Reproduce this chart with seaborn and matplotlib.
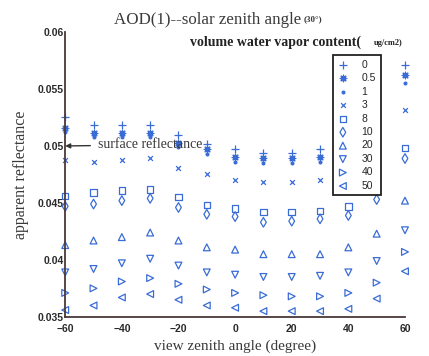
import numpy as np
import pandas as pd
import seaborn as sns
from matplotlib import pyplot as plt

# view zenith angles (degree)
view_angle = [-60, -50, -40, -30, -20, -10, 0, 10, 20, 30, 40, 50, 60]

# water vapor content classes and their apparent reflectance
vapor_labels = ['0', '0.5', '1', '3', '8', '10', '20', '30', '40', '50']
refl_0 = [0.0525, 0.0518, 0.0518, 0.0518, 0.0510, 0.0502, 0.0497, 0.0494, 0.0494, 0.0497, 0.0500, 0.0535, 0.0571]
refl_05 = [0.0516, 0.0511, 0.0511, 0.0511, 0.0503, 0.0497, 0.0490, 0.0489, 0.0489, 0.0490, 0.0494, 0.0528, 0.0562]
refl_1 = [0.0512, 0.0508, 0.0508, 0.0508, 0.0499, 0.0493, 0.0486, 0.0485, 0.0485, 0.0486, 0.0490, 0.0523, 0.0555]
refl_3 = [0.0488, 0.0486, 0.0488, 0.0489, 0.0481, 0.0475, 0.0470, 0.0468, 0.0468, 0.0470, 0.0474, 0.0505, 0.0532]
refl_8 = [0.0456, 0.0459, 0.0461, 0.0462, 0.0455, 0.0448, 0.0445, 0.0442, 0.0442, 0.0443, 0.0447, 0.0463, 0.0498]
refl_10 = [0.0447, 0.0449, 0.0452, 0.0454, 0.0446, 0.0440, 0.0438, 0.0433, 0.0434, 0.0436, 0.0439, 0.0453, 0.0489]
refl_20 = [0.0413, 0.0417, 0.0420, 0.0424, 0.0417, 0.0411, 0.0409, 0.0405, 0.0405, 0.0405, 0.0411, 0.0423, 0.0452]
refl_30 = [0.0389, 0.0392, 0.0397, 0.0401, 0.0395, 0.0389, 0.0387, 0.0385, 0.0385, 0.0386, 0.0389, 0.0399, 0.0426]
refl_40 = [0.0371, 0.0375, 0.0381, 0.0384, 0.0379, 0.0374, 0.0371, 0.0369, 0.0368, 0.0368, 0.0371, 0.0380, 0.0407]
refl_50 = [0.0356, 0.0360, 0.0367, 0.0370, 0.0365, 0.0360, 0.0358, 0.0355, 0.0355, 0.0355, 0.0357, 0.0366, 0.0390]

series = [refl_0, refl_05, refl_1, refl_3, refl_8, refl_10, refl_20, refl_30, refl_40, refl_50]
markers = ['+', (8, 2, 0), 'o', 'x', 's', 'd', '^', 'v', '>', '<']
hollow = [False, False, False, False, True, True, True, True, True, True]
sizes = [36, 22, 4, 12, 22, 24, 24, 24, 24, 24]

blue = '#3a6cd6'
axis_col = '#4a3838'
text_col = '#3a3a3a'
narrow = ['Liberation Sans Narrow', 'Liberation Sans', 'DejaVu Sans']

sns.set_style('white')
plt.rcParams['font.family'] = ['Liberation Serif', 'DejaVu Serif']

fig = plt.figure(figsize=(4.29, 3.56), dpi=100)
ax = fig.add_axes([0.152, 0.110, 0.792, 0.800])

for vals, lab, mk, hol, sz in zip(series, vapor_labels, markers, hollow, sizes):
    df = pd.DataFrame({'angle': view_angle, 'refl': vals})
    if hol:
        sns.scatterplot(data=df, x='angle', y='refl', ax=ax, marker=mk, s=sz,
                        facecolor='none', edgecolor=blue, linewidth=0.9,
                        label=lab, clip_on=False, zorder=1)
    else:
        sns.scatterplot(data=df, x='angle', y='refl', ax=ax, marker=mk, s=sz,
                        color=blue, edgecolor=blue, linewidth=0.9, label=lab,
                        clip_on=False, zorder=1)

ax.set_xlim(-60, 60)
ax.set_ylim(0.035, 0.06)
ax.set_xticks([-60, -40, -20, 0, 20, 40, 60])
ax.set_yticks([0.035, 0.04, 0.045, 0.05, 0.055, 0.06])
ax.set_yticklabels(['0.035', '0.04', '0.045', '0.05', '0.055', '0.06'])

for side in ['top', 'right']:
    ax.spines[side].set_visible(False)
for side in ['left', 'bottom']:
    ax.spines[side].set_color(axis_col)
    ax.spines[side].set_linewidth(1.3)
    ax.spines[side].set_zorder(2)

ax.tick_params(direction='in', length=3, width=1, colors=axis_col,
               labelcolor='#2a2a2a', labelsize=7.5)
ax.tick_params(axis='x', pad=5)
ax.tick_params(axis='y', pad=1)
for t in ax.get_xticklabels() + ax.get_yticklabels():
    t.set_family(narrow)
    t.set_weight('bold')

ax.set_xlabel('view zenith angle (degree)', fontsize=11, color=text_col)
ax.xaxis.set_label_coords(0.5, -0.078)
ax.set_ylabel('apparent reflectance', fontsize=11.5, color=text_col)
ax.yaxis.set_label_coords(-0.106, 0.5)

fig.text(0.484, 0.944, 'AOD(1)--solar zenith angle', fontsize=12.2,
         color=text_col, ha='center', va='center')
fig.text(0.707, 0.946, '(30°)', fontsize=6.5, weight='bold',
         color=text_col, ha='left', va='center')
fig.text(0.443, 0.882, 'volume water vapor content(', fontsize=10,
         weight='bold', color='#222222', ha='left', va='center')
fig.text(0.872, 0.880, 'ug/cm2)', fontsize=6, weight='bold',
         color='#222222', ha='left', va='center')

ax.annotate('surface reflectance', xy=(-60, 0.0500), xytext=(-48.5, 0.0501),
            fontsize=10, color=text_col, va='center', ha='left',
            arrowprops=dict(arrowstyle='-|>', color='#333333', lw=1,
                            shrinkA=3, shrinkB=0, mutation_scale=7))

leg = ax.legend(loc='upper left', bbox_to_anchor=(0.788, 0.919),
                borderaxespad=0, frameon=True, fancybox=False,
                labelspacing=0.33, handletextpad=1.3,
                handlelength=1.0, borderpad=0.45,
                prop={'family': narrow, 'size': 7.5})
leg.get_frame().set_edgecolor('#222222')
leg.get_frame().set_linewidth(1.3)
leg.get_frame().set_alpha(1)
leg.set_zorder(5)

fig.savefig('out.png', dpi=100, facecolor='white')
plt.close(fig)
